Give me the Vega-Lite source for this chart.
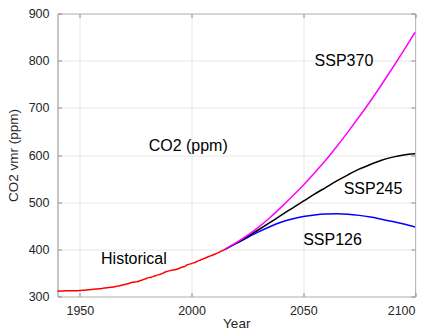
{
  "$schema": "https://vega.github.io/schema/vega-lite/v6.json",
  "width": 357.5,
  "height": 283,
  "autosize": "none",
  "padding": {"left": 57.5, "top": 13.5, "right": 16, "bottom": 33.5},
  "config": {
    "font": "Liberation Sans",
    "view": {"stroke": "#8c8c8c", "strokeWidth": 1},
    "axis": {
      "domain": false,
      "tickSize": -4,
      "tickColor": "#8c8c8c",
      "tickWidth": 1,
      "labelFont": "Liberation Sans",
      "labelFontSize": 12.5,
      "labelColor": "#262626",
      "titleFont": "Liberation Sans",
      "titleFontSize": 13.5,
      "titleFontWeight": "normal",
      "titleColor": "#262626",
      "gridColor": "#e6e6e6",
      "gridWidth": 1
    }
  },
  "datasets": {
    "lines": [
      {"year": 1940, "co2": 311.3, "series": "Historical"},
      {"year": 1941, "co2": 311.6, "series": "Historical"},
      {"year": 1942, "co2": 311.8, "series": "Historical"},
      {"year": 1943, "co2": 311.9, "series": "Historical"},
      {"year": 1944, "co2": 312.0, "series": "Historical"},
      {"year": 1945, "co2": 312.0, "series": "Historical"},
      {"year": 1946, "co2": 312.0, "series": "Historical"},
      {"year": 1947, "co2": 312.1, "series": "Historical"},
      {"year": 1948, "co2": 312.2, "series": "Historical"},
      {"year": 1949, "co2": 312.4, "series": "Historical"},
      {"year": 1950, "co2": 312.7, "series": "Historical"},
      {"year": 1951, "co2": 313.1, "series": "Historical"},
      {"year": 1952, "co2": 313.5, "series": "Historical"},
      {"year": 1953, "co2": 313.9, "series": "Historical"},
      {"year": 1954, "co2": 314.3, "series": "Historical"},
      {"year": 1955, "co2": 314.7, "series": "Historical"},
      {"year": 1956, "co2": 315.2, "series": "Historical"},
      {"year": 1957, "co2": 315.7, "series": "Historical"},
      {"year": 1958, "co2": 316.0, "series": "Historical"},
      {"year": 1959, "co2": 316.6, "series": "Historical"},
      {"year": 1960, "co2": 317.2, "series": "Historical"},
      {"year": 1961, "co2": 317.8, "series": "Historical"},
      {"year": 1962, "co2": 318.5, "series": "Historical"},
      {"year": 1963, "co2": 319.0, "series": "Historical"},
      {"year": 1964, "co2": 319.6, "series": "Historical"},
      {"year": 1965, "co2": 320.2, "series": "Historical"},
      {"year": 1966, "co2": 321.2, "series": "Historical"},
      {"year": 1967, "co2": 322.0, "series": "Historical"},
      {"year": 1968, "co2": 323.0, "series": "Historical"},
      {"year": 1969, "co2": 324.3, "series": "Historical"},
      {"year": 1970, "co2": 325.5, "series": "Historical"},
      {"year": 1971, "co2": 326.4, "series": "Historical"},
      {"year": 1972, "co2": 327.6, "series": "Historical"},
      {"year": 1973, "co2": 329.6, "series": "Historical"},
      {"year": 1974, "co2": 330.3, "series": "Historical"},
      {"year": 1975, "co2": 330.9, "series": "Historical"},
      {"year": 1976, "co2": 331.8, "series": "Historical"},
      {"year": 1977, "co2": 333.5, "series": "Historical"},
      {"year": 1978, "co2": 335.1, "series": "Historical"},
      {"year": 1979, "co2": 336.8, "series": "Historical"},
      {"year": 1980, "co2": 338.7, "series": "Historical"},
      {"year": 1981, "co2": 340.0, "series": "Historical"},
      {"year": 1982, "co2": 341.0, "series": "Historical"},
      {"year": 1983, "co2": 342.6, "series": "Historical"},
      {"year": 1984, "co2": 344.2, "series": "Historical"},
      {"year": 1985, "co2": 345.8, "series": "Historical"},
      {"year": 1986, "co2": 347.2, "series": "Historical"},
      {"year": 1987, "co2": 349.0, "series": "Historical"},
      {"year": 1988, "co2": 351.5, "series": "Historical"},
      {"year": 1989, "co2": 353.1, "series": "Historical"},
      {"year": 1990, "co2": 354.3, "series": "Historical"},
      {"year": 1991, "co2": 355.6, "series": "Historical"},
      {"year": 1992, "co2": 356.3, "series": "Historical"},
      {"year": 1993, "co2": 357.1, "series": "Historical"},
      {"year": 1994, "co2": 358.7, "series": "Historical"},
      {"year": 1995, "co2": 360.8, "series": "Historical"},
      {"year": 1996, "co2": 362.7, "series": "Historical"},
      {"year": 1997, "co2": 364.0, "series": "Historical"},
      {"year": 1998, "co2": 366.9, "series": "Historical"},
      {"year": 1999, "co2": 368.6, "series": "Historical"},
      {"year": 2000, "co2": 369.7, "series": "Historical"},
      {"year": 2001, "co2": 371.2, "series": "Historical"},
      {"year": 2002, "co2": 373.2, "series": "Historical"},
      {"year": 2003, "co2": 375.6, "series": "Historical"},
      {"year": 2004, "co2": 377.4, "series": "Historical"},
      {"year": 2005, "co2": 379.4, "series": "Historical"},
      {"year": 2006, "co2": 381.4, "series": "Historical"},
      {"year": 2007, "co2": 383.2, "series": "Historical"},
      {"year": 2008, "co2": 385.3, "series": "Historical"},
      {"year": 2009, "co2": 386.9, "series": "Historical"},
      {"year": 2010, "co2": 389.0, "series": "Historical"},
      {"year": 2011, "co2": 390.9, "series": "Historical"},
      {"year": 2012, "co2": 392.9, "series": "Historical"},
      {"year": 2013, "co2": 395.7, "series": "Historical"},
      {"year": 2014, "co2": 397.6, "series": "Historical"},
      {"year": 2015, "co2": 400.0, "series": "Historical"},

      {"year": 2015, "co2": 400.0, "series": "SSP126"},
      {"year": 2020, "co2": 412.5, "series": "SSP126"},
      {"year": 2025, "co2": 425.0, "series": "SSP126"},
      {"year": 2030, "co2": 437.0, "series": "SSP126"},
      {"year": 2035, "co2": 448.0, "series": "SSP126"},
      {"year": 2040, "co2": 457.5, "series": "SSP126"},
      {"year": 2045, "co2": 464.5, "series": "SSP126"},
      {"year": 2050, "co2": 469.5, "series": "SSP126"},
      {"year": 2055, "co2": 473.0, "series": "SSP126"},
      {"year": 2060, "co2": 475.0, "series": "SSP126"},
      {"year": 2065, "co2": 475.5, "series": "SSP126"},
      {"year": 2070, "co2": 474.5, "series": "SSP126"},
      {"year": 2075, "co2": 472.0, "series": "SSP126"},
      {"year": 2080, "co2": 468.5, "series": "SSP126"},
      {"year": 2085, "co2": 464.0, "series": "SSP126"},
      {"year": 2090, "co2": 459.0, "series": "SSP126"},
      {"year": 2095, "co2": 453.5, "series": "SSP126"},
      {"year": 2100, "co2": 447.5, "series": "SSP126"},

      {"year": 2015, "co2": 400.0, "series": "SSP245"},
      {"year": 2020, "co2": 413.0, "series": "SSP245"},
      {"year": 2025, "co2": 427.0, "series": "SSP245"},
      {"year": 2030, "co2": 441.5, "series": "SSP245"},
      {"year": 2035, "co2": 456.5, "series": "SSP245"},
      {"year": 2040, "co2": 472.0, "series": "SSP245"},
      {"year": 2045, "co2": 487.0, "series": "SSP245"},
      {"year": 2050, "co2": 502.0, "series": "SSP245"},
      {"year": 2055, "co2": 517.0, "series": "SSP245"},
      {"year": 2060, "co2": 531.0, "series": "SSP245"},
      {"year": 2065, "co2": 545.0, "series": "SSP245"},
      {"year": 2070, "co2": 558.0, "series": "SSP245"},
      {"year": 2075, "co2": 570.0, "series": "SSP245"},
      {"year": 2080, "co2": 580.0, "series": "SSP245"},
      {"year": 2085, "co2": 589.0, "series": "SSP245"},
      {"year": 2090, "co2": 595.5, "series": "SSP245"},
      {"year": 2095, "co2": 600.0, "series": "SSP245"},
      {"year": 2100, "co2": 602.5, "series": "SSP245"},

      {"year": 2015, "co2": 400.0, "series": "SSP370"},
      {"year": 2020, "co2": 414.0, "series": "SSP370"},
      {"year": 2025, "co2": 429.5, "series": "SSP370"},
      {"year": 2030, "co2": 447.0, "series": "SSP370"},
      {"year": 2035, "co2": 467.0, "series": "SSP370"},
      {"year": 2040, "co2": 489.0, "series": "SSP370"},
      {"year": 2045, "co2": 512.0, "series": "SSP370"},
      {"year": 2050, "co2": 536.0, "series": "SSP370"},
      {"year": 2055, "co2": 562.0, "series": "SSP370"},
      {"year": 2060, "co2": 589.0, "series": "SSP370"},
      {"year": 2065, "co2": 618.0, "series": "SSP370"},
      {"year": 2070, "co2": 649.0, "series": "SSP370"},
      {"year": 2075, "co2": 681.0, "series": "SSP370"},
      {"year": 2080, "co2": 714.0, "series": "SSP370"},
      {"year": 2085, "co2": 749.0, "series": "SSP370"},
      {"year": 2090, "co2": 785.0, "series": "SSP370"},
      {"year": 2095, "co2": 822.0, "series": "SSP370"},
      {"year": 2100, "co2": 860.0, "series": "SSP370"}
    ],
    "labels": [
      {"year": 2068.2, "co2": 799, "label": "SSP370"},
      {"year": 2081.2, "co2": 528, "label": "SSP245"},
      {"year": 2063.1, "co2": 420, "label": "SSP126"},
      {"year": 1974.2, "co2": 380, "label": "Historical"},
      {"year": 1998.5, "co2": 620, "label": "CO2 (ppm)"}
    ]
  },
  "resolve": {"axis": {"x": "independent", "y": "independent"}},
  "layer": [
    {
      "data": {"name": "lines"},
      "mark": {"type": "line", "strokeWidth": 1.5, "interpolate": "monotone"},
      "encoding": {
        "x": {
          "field": "year", "type": "quantitative",
          "scale": {"domain": [1940, 2100], "nice": false, "zero": false},
          "axis": {"orient": "bottom", "values": [1950, 2000, 2050, 2100], "grid": true, "labelPadding": 11.5, "title": "Year", "titlePadding": 0, "format": "d"}
        },
        "y": {
          "field": "co2", "type": "quantitative",
          "scale": {"domain": [300, 900], "nice": false, "zero": false},
          "axis": {"orient": "left", "values": [300, 400, 500, 600, 700, 800, 900], "grid": true, "labelPadding": 12.5, "title": "CO2 vmr (ppm)", "titlePadding": 8}
        },
        "color": {
          "field": "series", "type": "nominal",
          "scale": {"domain": ["Historical", "SSP126", "SSP245", "SSP370"], "range": ["#ff0000", "#0000ff", "#000000", "#ff00ff"]},
          "legend": null
        }
      }
    },
    {
      "data": {"name": "labels"},
      "mark": {"type": "text", "fontSize": 16, "font": "Liberation Sans", "color": "#000000", "align": "center", "baseline": "middle"},
      "encoding": {
        "x": {
          "field": "year", "type": "quantitative",
          "axis": {"orient": "top", "values": [1950, 2000, 2050, 2100], "labels": false, "grid": false, "title": null}
        },
        "y": {
          "field": "co2", "type": "quantitative",
          "axis": {"orient": "right", "values": [300, 400, 500, 600, 700, 800, 900], "labels": false, "grid": false, "title": null}
        },
        "text": {"field": "label", "type": "nominal"}
      }
    }
  ]
}
